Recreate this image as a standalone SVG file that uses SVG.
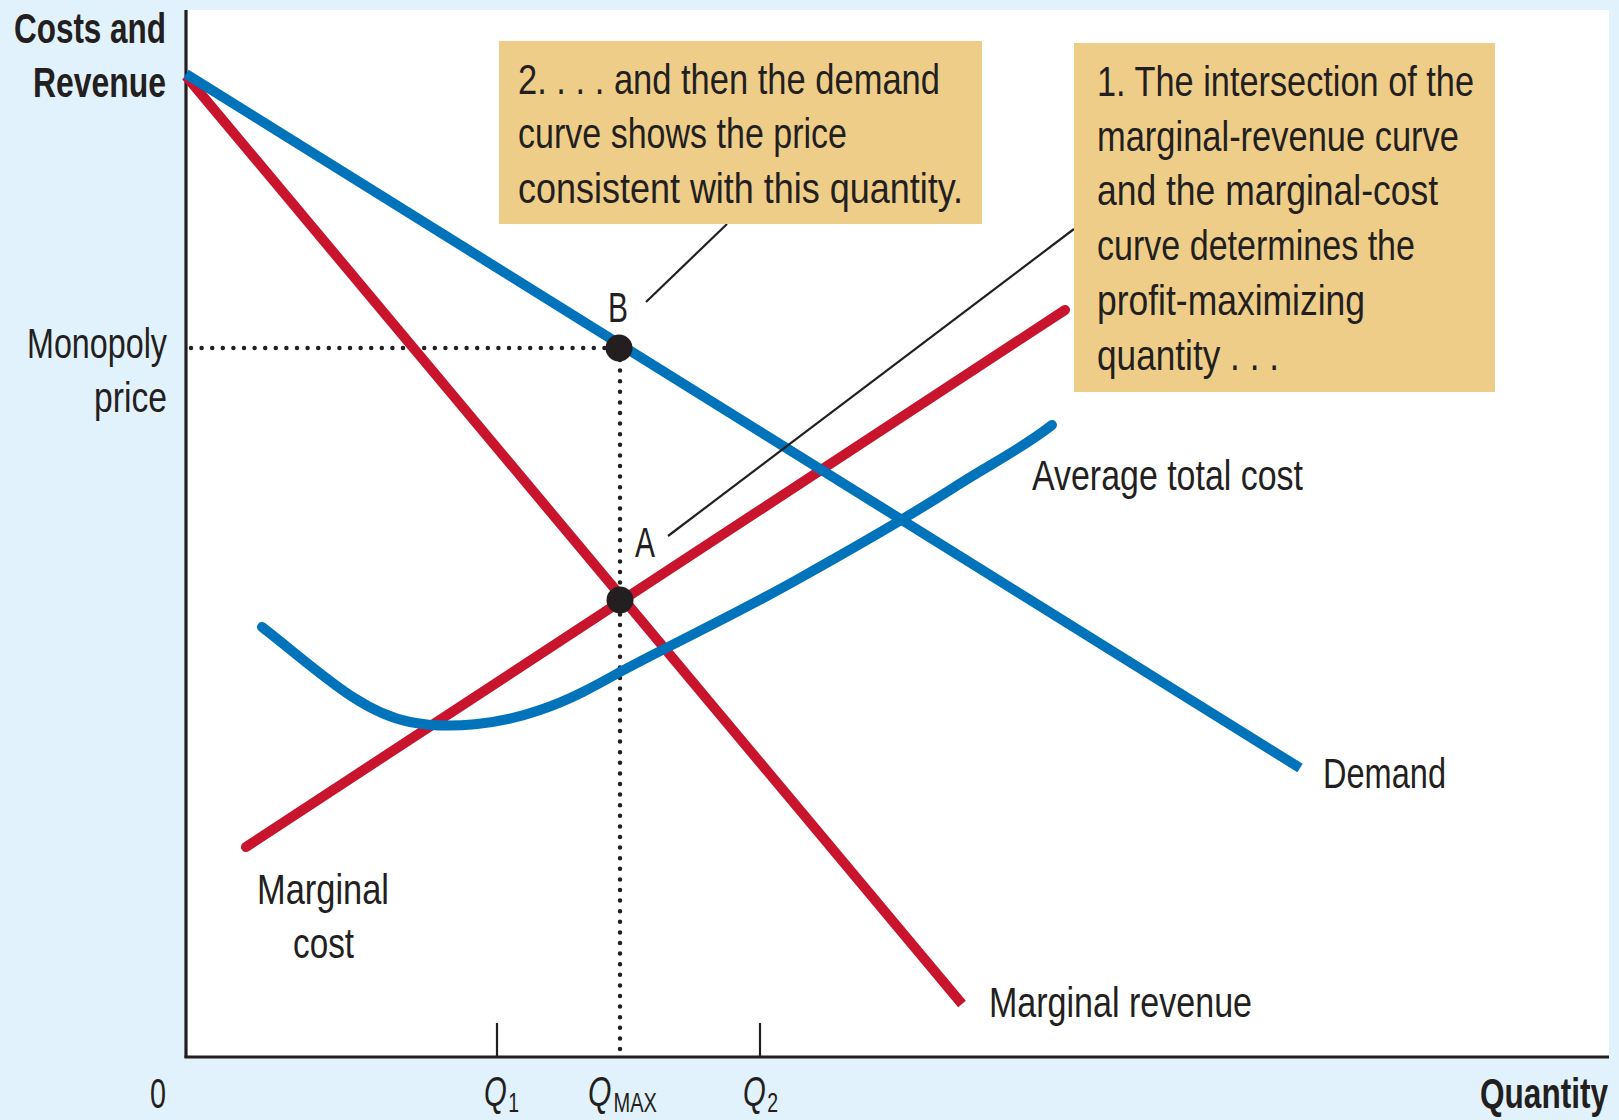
<svg xmlns="http://www.w3.org/2000/svg" width="1619" height="1120" viewBox="0 0 1619 1120">
<style>
.t{font-family:"Liberation Sans",Arial,sans-serif;font-size:42px;fill:#231F20}
.b{font-weight:bold}
.i{font-style:italic}
.s{font-size:28px;font-style:normal}
.blue{fill:none;stroke:#0073BB;stroke-width:10}
.red{fill:none;stroke:#C8142C;stroke-width:10}
.dot{fill:none;stroke:#231F20;stroke-width:4.5;stroke-linecap:round;stroke-dasharray:0 10.6}
.lead{fill:none;stroke:#231F20;stroke-width:2.2}
.box{fill:#EECD89}
</style>
<rect x="0" y="0" width="1619" height="1120" fill="#E1F2FC"/>
<rect x="186" y="10" width="1423" height="1047" fill="#FFFFFF"/>

<g id="axes">
<line x1="186" y1="10" x2="186" y2="1058" stroke="#231F20" stroke-width="3.2"/>
<line x1="184.5" y1="1057" x2="1609" y2="1057" stroke="#231F20" stroke-width="3.2"/>
<line x1="497" y1="1023" x2="497" y2="1057" stroke="#231F20" stroke-width="2.2"/>
<line x1="760" y1="1023" x2="760" y2="1057" stroke="#231F20" stroke-width="2.2"/>
</g>

<g id="guides">
<line class="dot" x1="191" y1="348" x2="612" y2="348"/>
<line class="dot" x1="620" y1="360" x2="620" y2="1055"/>
</g>

<g id="curves">
<path id="mr" class="red" d="M186,76 L962,1004"/>
<path id="mc" class="red" stroke-linecap="round" d="M246,847 L1065,310"/>
<path id="demand" class="blue" d="M186,74 L1300,768"/>
<path id="atc" class="blue" stroke-linecap="round" d="M262,627 C320,672 360,712 410,722 C450,730 500,724 540,710 C570,700 595,686 620,672 C680,640 740,612 800,578 C850,550 900,522 950,490 C990,464 1020,450 1052,425"/>
</g>

<g id="points">
<circle id="pointB" cx="619" cy="348" r="13.5" fill="#231F20"/>
<circle id="pointA" cx="620" cy="600" r="13.5" fill="#231F20"/>
</g>

<g id="connectors">
<line class="lead" x1="727" y1="224" x2="646" y2="302"/>
<line class="lead" x1="1074" y1="229" x2="668" y2="536"/>
</g>

<g id="note2">
<rect class="box" x="499" y="41" width="483" height="183"/>
<text class="t" x="518" y="94" textLength="422" lengthAdjust="spacingAndGlyphs">2. . . . and then the demand</text>
<text class="t" x="518" y="148" textLength="329" lengthAdjust="spacingAndGlyphs">curve shows the price</text>
<text class="t" x="518" y="203" textLength="445" lengthAdjust="spacingAndGlyphs">consistent with this quantity.</text>
</g>

<g id="note1">
<rect class="box" x="1074" y="43" width="421" height="349"/>
<text class="t" x="1097" y="96" textLength="377" lengthAdjust="spacingAndGlyphs">1. The intersection of the</text>
<text class="t" x="1097" y="151" textLength="362" lengthAdjust="spacingAndGlyphs">marginal-revenue curve</text>
<text class="t" x="1097" y="205" textLength="341" lengthAdjust="spacingAndGlyphs">and the marginal-cost</text>
<text class="t" x="1097" y="260" textLength="318" lengthAdjust="spacingAndGlyphs">curve determines the</text>
<text class="t" x="1097" y="315" textLength="268" lengthAdjust="spacingAndGlyphs">profit-maximizing</text>
<text class="t" x="1097" y="370" textLength="182" lengthAdjust="spacingAndGlyphs">quantity . . .</text>
</g>

<g id="labels">
<text class="t b" x="14" y="43" textLength="152" lengthAdjust="spacingAndGlyphs">Costs and</text>
<text class="t b" x="33" y="97" textLength="133" lengthAdjust="spacingAndGlyphs">Revenue</text>
<text class="t" x="27" y="358" textLength="140" lengthAdjust="spacingAndGlyphs">Monopoly</text>
<text class="t" x="94" y="412" textLength="73" lengthAdjust="spacingAndGlyphs">price</text>
<text class="t" x="608" y="322" textLength="20" lengthAdjust="spacingAndGlyphs">B</text>
<text class="t" x="635" y="557" textLength="20" lengthAdjust="spacingAndGlyphs">A</text>
<text class="t" x="1032" y="490" textLength="271" lengthAdjust="spacingAndGlyphs">Average total cost</text>
<text class="t" x="1323" y="788" textLength="123" lengthAdjust="spacingAndGlyphs">Demand</text>
<text class="t" x="257" y="904" textLength="132" lengthAdjust="spacingAndGlyphs">Marginal</text>
<text class="t" x="293" y="958" textLength="61" lengthAdjust="spacingAndGlyphs">cost</text>
<text class="t" x="989" y="1017" textLength="263" lengthAdjust="spacingAndGlyphs">Marginal revenue</text>
<text class="t" x="150" y="1108" textLength="16" lengthAdjust="spacingAndGlyphs">0</text>
<text class="t i" x="484" y="1106" textLength="35" lengthAdjust="spacingAndGlyphs">Q<tspan class="s" dx="2" dy="6">1</tspan></text>
<text class="t i" x="588" y="1106" textLength="69" lengthAdjust="spacingAndGlyphs">Q<tspan class="s" dx="3" dy="6">MAX</tspan></text>
<text class="t i" x="743" y="1106" textLength="35" lengthAdjust="spacingAndGlyphs">Q<tspan class="s" dx="2" dy="6">2</tspan></text>
<text class="t b" x="1480" y="1108" textLength="128" lengthAdjust="spacingAndGlyphs">Quantity</text>
</g>
</svg>
